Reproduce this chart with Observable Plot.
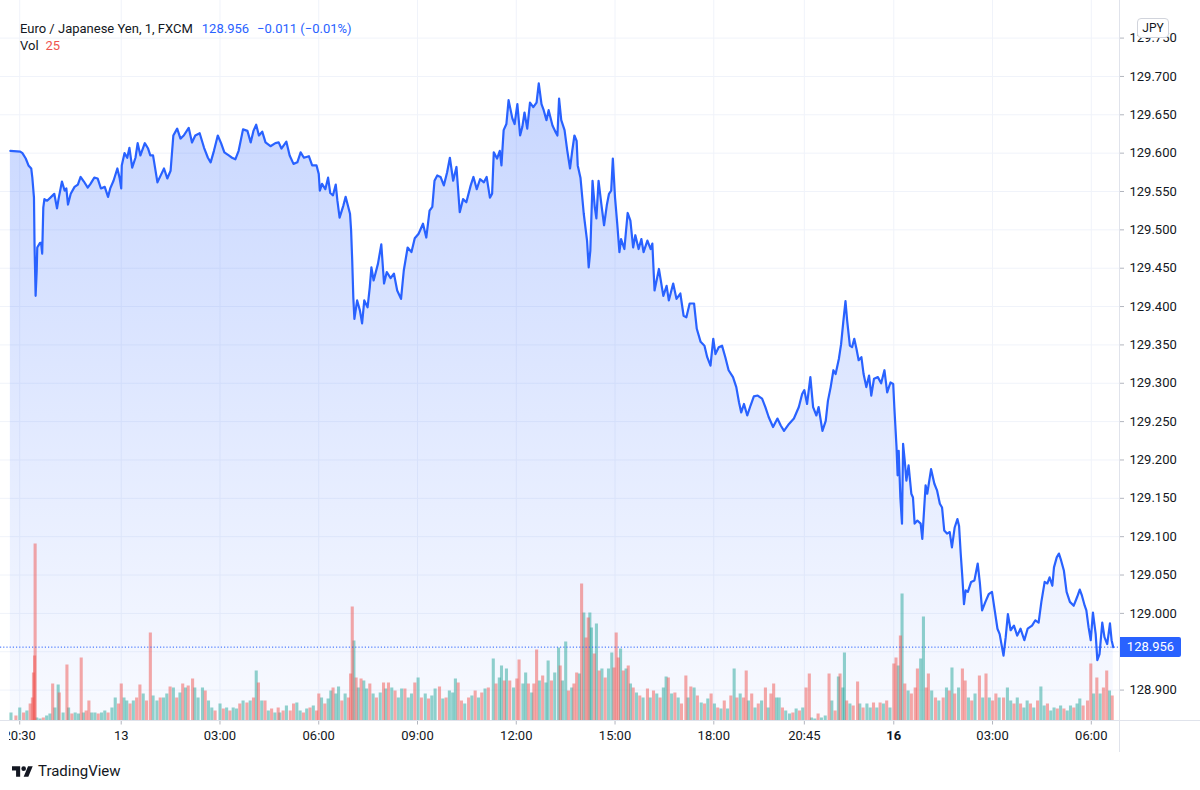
<!DOCTYPE html>
<html>
<head>
<meta charset="utf-8">
<script src="https://cdn.jsdelivr.net/npm/d3@7"></script>
<script src="https://cdn.jsdelivr.net/npm/@observablehq/plot@0.6"></script>
<style>
  html, body { margin: 0; padding: 0; background: #fff; }
  #wrap { position: relative; width: 1200px; height: 790px; overflow: hidden;
          font-family: Roboto, "Noto Sans", sans-serif; color: #131722; }
  #chart svg { display: block; }
  #legend { position: absolute; left: 20px; top: 20px; font-size: 13px; line-height: 17px; white-space: nowrap; }
  .blue { color: #2962FF; }
  .red { color: #ef5350; }
  #jpy { position: absolute; left: 1137px; top: 18px; width: 32px; height: 20px; box-sizing: border-box;
         border: 1px solid #d1d4dc; border-radius: 4px; background: #fff; font-size: 12px;
         line-height: 18px; text-align: center; }
  #lastLabel { position: absolute; left: 1120px; width: 61px; height: 20px; background: #2962FF; color: #fff;
               font-size: 13px; line-height: 20px; text-align: center; border-radius: 0 2px 2px 0; }
  #paneSep { position: absolute; left: 1119px; top: 0; width: 1px; height: 752px; background: #e0e3eb; }
  #axisLine { position: absolute; left: 0; top: 720px; width: 1200px; height: 1px; background: #e0e3eb; }
  #mask { position: absolute; left: 0; top: 724px; width: 9px; height: 26px; background: #fff; }
  #footer { position: absolute; left: 12px; top: 762px; display: flex; align-items: center; gap: 5px;
            font-size: 15px; line-height: 18px; color: #131722; }
</style>
</head>
<body>
<div id="wrap">
  <div id="chart"></div>
  <div id="axisLine"></div>
  <div id="paneSep"></div>
  <div id="mask"></div>
  <div id="legend">
    <div><span>Euro / Japanese Yen, 1, FXCM</span><span class="blue" id="legPrice" style="margin-left:9px"></span><span class="blue" style="margin-left:8px">−0.011 (−0.01%)</span></div>
    <div><span>Vol</span><span class="red" id="legVol" style="margin-left:7px"></span></div>
  </div>
  <div id="jpy">JPY</div>
  <div id="lastLabel"></div>
  <div id="footer">
    <svg width="21" height="14" viewBox="0 0 36 24"><path fill="#131722" d="M14 22H7V11H0V4h14v18zM28 22h-8l7.5-18h8L28 22z"/><circle fill="#131722" cx="20" cy="8" r="4"/></svg>
    <span>TradingView</span>
  </div>
</div>
<script>
// ---- DATA -------------------------------------------------------------
// x values are "session minutes": minutes of trading since 13 00:00 (bar-index based,
// so the weekend gap and missing bars are compressed as on the original chart).

// Price (close), [session minute, price]
const priceSeries = [
[-202,129.603],[-184,129.602],[-180,129.600],[-174,129.593],[-169,129.584],[-164,129.580],[-162,129.568],[-159,129.542],[-158,129.482],[-156,129.414],
[-154,129.447],[-153,129.477],[-148,129.483],[-146,129.483],[-144,129.469],[-142,129.529],[-140,129.540],[-135,129.538],[-129,129.542],[-122,129.547],
[-117,129.528],[-114,129.541],[-108,129.563],[-103,129.551],[-100,129.554],[-97,129.533],[-92,129.547],[-85,129.556],[-79,129.559],[-74,129.569],
[-68,129.563],[-61,129.555],[-56,129.560],[-49,129.568],[-43,129.567],[-37,129.554],[-30,129.556],[-24,129.543],[-20,129.554],[-14,129.564],
[-7,129.580],[-3,129.568],[0,129.554],[1,129.584],[6,129.600],[11,129.594],[15,129.607],[20,129.581],[26,129.594],[30,129.613],
[35,129.597],[43,129.613],[49,129.606],[53,129.597],[58,129.597],[66,129.562],[72,129.571],[78,129.580],[84,129.567],[90,129.577],
[95,129.623],[102,129.632],[108,129.619],[114,129.623],[123,129.633],[129,129.614],[135,129.623],[143,129.626],[151,129.607],[158,129.594],
[163,129.588],[169,129.603],[176,129.623],[182,129.613],[188,129.601],[196,129.597],[202,129.594],[208,129.592],[214,129.603],[222,129.631],
[230,129.629],[236,129.614],[241,129.629],[246,129.637],[251,129.623],[257,129.628],[263,129.614],[272,129.609],[281,129.613],[287,129.614],
[292,129.606],[301,129.615],[307,129.597],[314,129.586],[321,129.588],[327,129.601],[333,129.594],[342,129.596],[348,129.584],[356,129.584],
[360,129.573],[362,129.551],[366,129.560],[372,129.553],[377,129.568],[381,129.548],[386,129.545],[391,129.559],[394,129.538],[398,129.516],
[405,129.532],[409,129.543],[413,129.532],[417,129.521],[419,129.499],[421,129.460],[423,129.412],[425,129.384],[430,129.408],[435,129.395],
[439,129.378],[443,129.408],[449,129.399],[453,129.425],[456,129.451],[460,129.434],[468,129.456],[474,129.481],[479,129.430],[484,129.445],
[491,129.437],[497,129.443],[503,129.421],[510,129.410],[515,129.447],[522,129.477],[529,129.471],[535,129.489],[542,129.495],[550,129.508],
[556,129.490],[562,129.525],[567,129.530],[571,129.564],[576,129.571],[582,129.569],[588,129.558],[594,129.575],[599,129.594],[605,129.564],
[611,129.582],[617,129.523],[623,129.540],[629,129.536],[637,129.558],[642,129.569],[648,129.553],[654,129.566],[661,129.562],[666,129.569],
[672,129.542],[676,129.547],[679,129.601],[685,129.593],[690,129.603],[693,129.584],[697,129.630],[702,129.638],[706,129.669],[713,129.645],
[717,129.638],[722,129.664],[727,129.623],[731,129.634],[735,129.653],[740,129.632],[745,129.666],[751,129.660],[757,129.666],[761,129.691],
[766,129.664],[770,129.656],[775,129.643],[779,129.656],[786,129.636],[792,129.627],[795,129.623],[798,129.671],[802,129.643],[808,129.630],
[813,129.603],[818,129.580],[822,129.603],[826,129.623],[830,129.616],[832,129.584],[837,129.568],[843,129.521],[849,129.486],[852,129.451],
[855,129.473],[859,129.564],[863,129.530],[866,129.515],[870,129.564],[875,129.534],[880,129.506],[885,129.532],[889,129.547],[893,129.551],
[896,129.593],[900,129.542],[904,129.508],[908,129.471],[911,129.488],[917,129.475],[923,129.522],[928,129.512],[933,129.477],[937,129.493],
[943,129.475],[948,129.488],[952,129.471],[959,129.486],[965,129.475],[968,129.482],[972,129.421],[980,129.449],[988,129.414],[994,129.427],
[998,129.408],[1006,129.430],[1012,129.410],[1019,129.417],[1025,129.388],[1030,129.386],[1036,129.404],[1044,129.404],[1049,129.371],[1056,129.354],
[1063,129.349],[1068,129.334],[1074,129.323],[1079,129.358],[1083,129.338],[1089,129.347],[1095,129.349],[1101,129.334],[1107,129.317],[1115,129.308],
[1121,129.295],[1126,129.275],[1130,129.262],[1135,129.273],[1141,129.258],[1147,129.271],[1153,129.283],[1160,129.284],[1168,129.280],[1174,129.269],
[1180,129.256],[1188,129.243],[1196,129.254],[1202,129.245],[1208,129.238],[1217,129.247],[1226,129.254],[1235,129.269],[1241,129.286],[1245,129.291],
[1250,129.273],[1256,129.308],[1261,129.269],[1267,129.258],[1271,129.269],[1278,129.238],[1284,129.251],[1288,129.277],[1293,129.295],[1298,129.317],
[1302,129.312],[1308,129.332],[1312,129.351],[1316,129.380],[1320,129.407],[1323,129.382],[1328,129.349],[1332,129.347],[1336,129.358],[1340,129.345],
[1344,129.330],[1349,129.334],[1353,129.312],[1358,129.295],[1363,129.310],[1367,129.284],[1372,129.306],[1379,129.308],[1385,129.300],[1391,129.317],
[1396,129.288],[1402,129.301],[1407,129.299],[1409,129.269],[1413,129.217],[1415,129.180],[1417,129.212],[1420,129.151],[1423,129.117],[1425,129.221],
[1428,129.199],[1431,129.173],[1435,129.193],[1440,129.156],[1443,129.151],[1446,129.117],[1451,129.121],[1457,129.117],[1460,129.097],[1466,129.167],
[1469,129.156],[1476,129.188],[1482,129.169],[1487,129.160],[1492,129.143],[1496,129.138],[1500,129.108],[1505,129.104],[1510,129.106],[1514,129.086],
[1519,129.112],[1524,129.123],[1527,129.114],[1530,129.078],[1533,129.047],[1536,129.012],[1539,129.030],[1543,129.028],[1549,129.041],[1555,129.043],
[1561,129.065],[1565,129.039],[1569,129.004],[1575,129.015],[1581,129.025],[1587,129.028],[1592,129.004],[1597,128.980],[1601,128.973],[1608,128.945],
[1612,128.969],[1616,128.999],[1621,128.978],[1627,128.984],[1633,128.971],[1639,128.980],[1646,128.965],[1652,128.980],[1660,128.984],[1666,128.991],
[1672,128.988],[1677,129.015],[1683,129.041],[1688,129.039],[1692,129.047],[1697,129.036],[1700,129.060],[1705,129.073],[1709,129.078],[1713,129.069],
[1718,129.056],[1723,129.028],[1729,129.015],[1736,129.010],[1742,129.021],[1747,129.031],[1751,129.023],[1756,129.010],[1759,129.004],[1763,128.982],
[1767,128.965],[1771,129.001],[1776,128.973],[1779,128.939],[1783,128.947],[1788,128.988],[1792,128.969],[1797,128.960],[1802,128.987],[1805,128.965],
[1808,128.956]
];

// Volume, [session minute, volume, "u" = up bar / "d" = down bar]
const volumeSeries = [
[-200,8,"u"],[-191,5,"d"],[-184,13,"u"],[-177,8,"d"],[-171,10,"u"],[-165,17,"d"],[-161,23,"d"],[-159,48,"d"],[-157,65,"d"],[-156,177,"d"],
[-153,3,"u"],[-147,2,"u"],[-141,3,"d"],[-135,5,"u"],[-129,7,"u"],[-124,37,"d"],[-120,13,"u"],[-114,36,"u"],[-112,28,"d"],[-105,8,"u"],
[-98,56,"d"],[-95,13,"u"],[-89,7,"d"],[-83,8,"u"],[-77,7,"u"],[-72,63,"d"],[-68,8,"u"],[-63,10,"d"],[-58,20,"d"],[-53,8,"u"],
[-47,8,"u"],[-41,7,"d"],[-35,8,"u"],[-29,10,"u"],[-23,8,"d"],[-16,13,"u"],[-10,23,"u"],[-4,17,"d"],[1,37,"d"],[6,23,"u"],
[11,20,"u"],[17,17,"d"],[23,20,"u"],[29,23,"d"],[35,36,"d"],[41,27,"u"],[47,20,"d"],[54,88,"d"],[59,25,"u"],[66,20,"u"],
[72,23,"d"],[78,23,"u"],[84,27,"u"],[90,34,"d"],[96,33,"u"],[102,23,"d"],[108,28,"u"],[113,37,"d"],[118,33,"u"],[123,35,"d"],
[131,42,"d"],[135,33,"u"],[141,23,"u"],[149,33,"u"],[154,30,"d"],[160,20,"u"],[166,13,"u"],[172,10,"d"],[181,17,"u"],[187,12,"d"],
[193,13,"u"],[199,10,"d"],[205,13,"u"],[211,12,"u"],[217,17,"d"],[223,20,"u"],[230,18,"d"],[236,20,"u"],[242,23,"d"],[247,50,"u"],
[251,38,"d"],[257,20,"u"],[263,20,"d"],[269,10,"u"],[275,12,"d"],[281,8,"u"],[287,13,"d"],
[290,8,"u"],[296,10,"d"],[302,15,"u"],[309,10,"d"],[315,17,"d"],[321,18,"u"],[327,10,"u"],[333,8,"d"],[339,12,"u"],[345,13,"d"],
[351,15,"u"],[357,10,"d"],[361,27,"d"],[366,23,"u"],[372,17,"d"],[378,22,"u"],[383,30,"u"],[387,33,"d"],[392,27,"u"],[397,34,"u"],
[403,20,"d"],[409,27,"u"],[415,23,"d"],[419,47,"d"],[422,114,"d"],[425,80,"u"],[429,43,"d"],[433,33,"u"],[438,42,"d"],[443,40,"u"],
[448,32,"u"],[454,37,"d"],[460,27,"u"],[466,23,"d"],[473,28,"u"],[479,38,"d"],[483,32,"u"],[488,38,"d"],[494,33,"u"],[500,30,"d"],
[506,23,"u"],[512,32,"u"],[518,32,"d"],[524,23,"u"],[530,27,"u"],[536,38,"d"],[542,43,"u"],[548,23,"d"],[555,27,"u"],[561,22,"d"],
[567,25,"u"],[573,32,"u"],[581,34,"d"],[587,22,"u"],[593,23,"d"],[599,30,"u"],[605,28,"u"],[610,42,"u"],[615,38,"d"],[621,20,"d"],
[627,17,"u"],[634,23,"d"],[640,25,"u"],[646,30,"d"],[652,23,"u"],[658,28,"d"],[664,32,"u"],[670,33,"d"],[679,62,"u"],[684,37,"d"],
[690,43,"u"],[694,55,"u"],[699,40,"d"],[703,52,"u"],[709,40,"d"],[716,33,"u"],[722,42,"d"],[726,61,"d"],[733,37,"u"],[738,48,"u"],
[743,37,"d"],[749,28,"u"],[753,37,"d"],[758,71,"d"],[763,40,"u"],[769,45,"d"],[775,38,"u"],[779,60,"u"],[785,40,"d"],[791,48,"u"],[798,73,"u"],
[801,55,"d"],[805,40,"u"],[811,79,"u"],[816,30,"d"],[822,33,"u"],[826,37,"d"],[831,48,"d"],[836,47,"u"],[840,137,"d"],[844,108,"u"],
[848,83,"d"],[852,103,"d"],[855,108,"u"],[858,93,"u"],[863,67,"d"],[867,97,"u"],[872,50,"d"],[877,52,"u"],[883,43,"d"],[889,52,"u"],
[895,68,"u"],[899,53,"d"],[903,88,"d"],[907,63,"d"],[911,72,"u"],[916,50,"d"],[921,52,"u"],[925,55,"d"],[929,37,"u"],[934,33,"d"],
[940,28,"u"],[946,25,"d"],[952,23,"u"],[960,32,"d"],[965,23,"u"],[971,30,"d"],[977,27,"u"],[983,23,"d"],[989,33,"u"],[994,44,"u"],
[998,43,"d"],[1004,27,"u"],[1010,28,"d"],[1016,23,"u"],[1022,17,"d"],[1030,45,"d"],[1034,23,"u"],[1039,34,"d"],[1045,33,"u"],[1051,25,"d"],
[1058,18,"u"],[1064,17,"d"],[1070,22,"u"],[1076,27,"d"],[1082,17,"u"],[1088,13,"d"],[1094,12,"u"],[1100,20,"d"],[1106,12,"u"],[1112,25,"d"],
[1118,52,"u"],[1123,23,"d"],[1129,27,"u"],[1135,23,"d"],[1140,50,"d"],[1144,20,"u"],[1150,27,"d"],[1156,13,"u"],[1162,17,"d"],[1168,20,"u"],
[1175,33,"d"],[1180,13,"u"],[1185,27,"d"],[1190,37,"d"],[1195,23,"u"],[1200,23,"u"],[1206,13,"d"],[1212,10,"u"],[1219,7,"u"],[1225,8,"d"],
[1231,12,"u"],[1237,10,"d"],[1243,13,"u"],[1249,33,"d"],[1255,47,"d"],[1259,3,"u"],[1265,2,"u"],[1271,7,"d"],[1277,3,"u"],[1284,5,"u"],
[1291,47,"d"],[1296,20,"u"],[1302,10,"d"],[1308,44,"u"],
[1311,47,"d"],[1316,33,"u"],[1319,68,"u"],[1323,20,"d"],[1329,17,"u"],[1335,15,"d"],[1343,39,"d"],[1347,17,"u"],[1353,13,"d"],[1360,17,"u"],
[1366,13,"u"],[1372,18,"d"],[1378,13,"u"],[1384,18,"d"],[1390,17,"u"],[1396,20,"d"],[1402,13,"u"],[1409,57,"d"],[1413,63,"d"],[1417,55,"u"],
[1421,85,"d"],[1424,127,"u"],[1429,37,"d"],[1435,30,"u"],[1441,27,"d"],[1448,33,"d"],[1452,52,"d"],[1458,62,"u"],[1463,104,"u"],[1468,33,"d"],
[1472,47,"d"],[1478,30,"u"],[1485,23,"d"],[1491,20,"u"],[1499,23,"d"],[1505,33,"u"],[1510,30,"d"],[1515,53,"u"],[1520,27,"d"],[1527,33,"u"],
[1534,52,"d"],[1539,40,"d"],[1545,23,"u"],[1551,20,"d"],[1557,27,"u"],[1565,45,"d"],[1571,23,"u"],[1577,47,"d"],[1583,23,"u"],[1589,20,"d"],
[1595,27,"d"],[1601,23,"u"],[1609,23,"d"],[1616,33,"u"],[1622,20,"u"],[1628,17,"d"],[1634,23,"u"],[1640,17,"d"],[1646,13,"u"],[1652,20,"u"],
[1658,17,"d"],[1664,13,"u"],[1671,20,"d"],[1677,34,"u"],[1683,15,"u"],[1689,17,"d"],[1695,10,"u"],[1701,13,"u"],[1707,12,"d"],[1713,15,"u"],
[1719,12,"d"],[1725,10,"u"],[1731,15,"u"],[1737,13,"d"],[1743,17,"u"],[1748,22,"u"],[1754,15,"d"],[1762,20,"d"],[1768,57,"d"],[1773,27,"u"],
[1779,43,"d"],[1785,27,"u"],[1791,33,"d"],[1797,50,"d"],[1802,30,"u"],[1807,25,"d"]
];

// Time-axis ticks (session minutes) and their labels
const xTickMinutes = [-185, 0, 180, 360, 540, 720, 900, 1080, 1245, 1408, 1588, 1768];
const xTickLabels  = ["20:30", "13", "03:00", "06:00", "09:00", "12:00", "15:00", "18:00", "20:45", "16", "03:00", "06:00"];
const boldLabels = ["16"];

// Price-axis grid levels; the 128.950 label is hidden behind the last-price tag
const yGrid = [128.90, 128.95, 129.00, 129.05, 129.10, 129.15, 129.20, 129.25, 129.30,
               129.35, 129.40, 129.45, 129.50, 129.55, 129.60, 129.65, 129.70, 129.75];
const yLabelled = [128.90, 129.00, 129.05, 129.10, 129.15, 129.20, 129.25, 129.30,
                   129.35, 129.40, 129.45, 129.50, 129.55, 129.60, 129.65, 129.70, 129.75];

// ---- CHART ------------------------------------------------------------
const xDomain = [-220, 1819.4];
const yDomain = [128.8597, 129.799];
const H = 755, marginBottom = 34.5, marginTop = 0;
const plotH = H - marginTop - marginBottom;
const volK = (yDomain[1] - yDomain[0]) / plotH;   // volume pane: 1 unit of volume ≈ 1px

const price = priceSeries.map(([t, p]) => ({t, p}));
const vol = volumeSeries.map(([t, v, dir]) => ({t, v, dir}));
const last = price[price.length - 1];
const labelByMin = new Map(xTickMinutes.map((m, i) => [m, xTickLabels[i]]));
const halfBar = 2.8;

const chart = Plot.plot({
  width: 1200,
  height: H,
  marginLeft: 0,
  marginRight: 81,
  marginTop,
  marginBottom,
  x: {type: "linear", domain: xDomain, label: null},
  y: {domain: yDomain, label: null},
  style: {fontFamily: "Roboto, 'Noto Sans', sans-serif", fontSize: "13px", color: "#131722",
          background: "transparent", overflow: "visible"},
  marks: [
    Plot.gridY(yGrid, {stroke: "#f0f3fa", strokeOpacity: 1}),
    Plot.gridX(xTickMinutes, {stroke: "#f0f3fa", strokeOpacity: 1}),
    Plot.area(price, {x1: "t", y1: yDomain[0], y2: "p", fill: "url(#areaGrad)"}),
    Plot.rect(vol.filter(d => d.dir === "u"), {
      x1: d => d.t - halfBar, x2: d => d.t + halfBar,
      y1: yDomain[0], y2: d => yDomain[0] + d.v * volK,
      fill: "#26a69a", fillOpacity: 0.5
    }),
    Plot.rect(vol.filter(d => d.dir === "d"), {
      x1: d => d.t - halfBar, x2: d => d.t + halfBar,
      y1: yDomain[0], y2: d => yDomain[0] + d.v * volK,
      fill: "#ef5350", fillOpacity: 0.5
    }),
    Plot.ruleY([last.p], {stroke: "#2962FF", strokeWidth: 1, strokeDasharray: "1.2 2"}),
    Plot.line(price, {x: "t", y: "p", stroke: "#2962FF", strokeWidth: 2.2, strokeLinejoin: "round"}),
    Plot.axisY(yLabelled, {anchor: "right", label: null, tickFormat: d => d.toFixed(3), tickSize: 4, tickPadding: 6,
                           stroke: "#b2b5be", fill: "#131722", fontSize: 13}),
    Plot.axisX(xTickMinutes, {anchor: "bottom", label: null, tickFormat: d => labelByMin.get(d), tickSize: 4, tickPadding: 6,
                              stroke: "#b2b5be", fill: "#131722", fontSize: 13})
  ]
});

// gradient for the area fill
const defs = d3.select(chart).insert("defs", ":first-child");
const grad = defs.append("linearGradient").attr("id", "areaGrad")
  .attr("x1", 0).attr("y1", 0).attr("x2", 0).attr("y2", 1);
grad.append("stop").attr("offset", "0%").attr("stop-color", "#2962FF").attr("stop-opacity", 0.26);
grad.append("stop").attr("offset", "100%").attr("stop-color", "#2962FF").attr("stop-opacity", 0.03);

// day-change labels in bold
d3.select(chart).selectAll("g[aria-label='x-axis tick label'] text, text").filter(function () {
  return boldLabels.includes(this.textContent);
}).attr("font-weight", "bold");

document.getElementById("chart").appendChild(chart);

// last-price tag on the price axis, and legend values
const yScale = chart.scale("y");
const lab = document.getElementById("lastLabel");
lab.textContent = last.p.toFixed(3);
lab.style.top = (yScale.apply(last.p) - 10) + "px";
document.getElementById("legPrice").textContent = last.p.toFixed(3);
document.getElementById("legVol").textContent = vol[vol.length - 1].v;
</script>
</body>
</html>
